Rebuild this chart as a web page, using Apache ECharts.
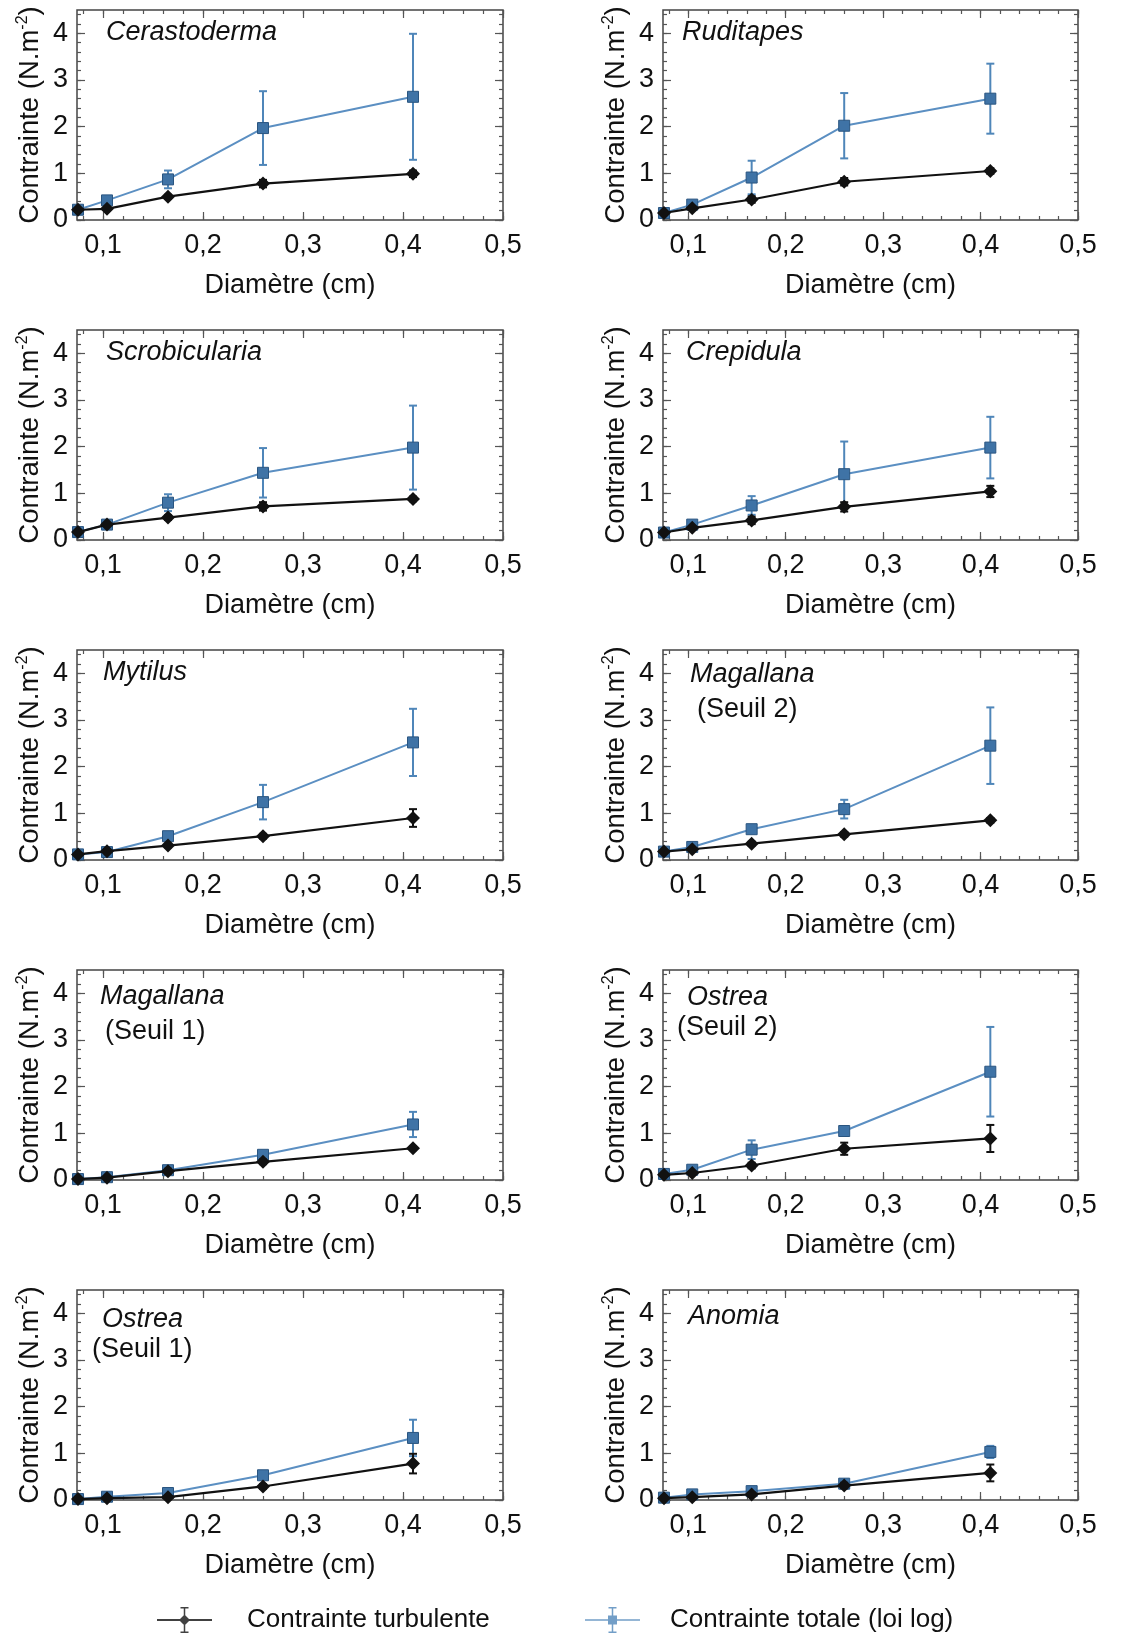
<!DOCTYPE html>
<html><head><meta charset="utf-8">
<script src="https://cdn.jsdelivr.net/npm/echarts@6/dist/echarts.min.js"></script>
<style>html,body{margin:0;padding:0;background:#fff}#c{width:1138px;height:1636px}</style>
</head><body><div id="c"></div>
<script>
// ---------- DATA ----------
const diam = [0.075, 0.104, 0.165, 0.26, 0.41];
const xTickValues = [0.1, 0.2, 0.3, 0.4, 0.5];
const xTickLabels = ['0,1', '0,2', '0,3', '0,4', '0,5'];
const yTickValues = [0, 1, 2, 3, 4];
const yTickLabels = ['0', '1', '2', '3', '4'];
const speciesNames = ['Cerastoderma', 'Ruditapes', 'Scrobicularia', 'Crepidula', 'Mytilus',
  'Magallana', 'Magallana', 'Ostrea', 'Ostrea', 'Anomia'];
const speciesSub = ['', '', '', '', '', '(Seuil 2)', '(Seuil 1)', '(Seuil 2)', '(Seuil 1)', ''];
const seriesNames = ['Contrainte turbulente', 'Contrainte totale (loi log)'];

const cerastodermaTurb = [0.22, 0.24, 0.50, 0.78, 0.99];
const cerastodermaTurbErr = [0.03, 0.03, 0.04, 0.08, 0.07];
const cerastodermaTot = [0.22, 0.42, 0.87, 1.97, 2.64];
const cerastodermaTotErr = [0.03, 0.06, 0.19, 0.79, 1.35];

const ruditapesTurb = [0.15, 0.25, 0.44, 0.82, 1.05];
const ruditapesTurbErr = [0.03, 0.04, 0.07, 0.08, 0.06];
const ruditapesTot = [0.15, 0.33, 0.91, 2.02, 2.60];
const ruditapesTotErr = [0.03, 0.06, 0.36, 0.70, 0.75];

const scrobiculariaTurb = [0.17, 0.33, 0.48, 0.72, 0.88];
const scrobiculariaTurbErr = [0.02, 0.03, 0.05, 0.09, 0.05];
const scrobiculariaTot = [0.17, 0.33, 0.80, 1.44, 1.98];
const scrobiculariaTotErr = [0.02, 0.04, 0.18, 0.53, 0.90];

const crepidulaTurb = [0.16, 0.26, 0.42, 0.71, 1.04];
const crepidulaTurbErr = [0.03, 0.04, 0.08, 0.10, 0.12];
const crepidulaTot = [0.16, 0.33, 0.74, 1.41, 1.98];
const crepidulaTotErr = [0.03, 0.05, 0.20, 0.70, 0.66];

const mytilusTurb = [0.12, 0.19, 0.31, 0.51, 0.90];
const mytilusTurbErr = [0.02, 0.03, 0.04, 0.05, 0.19];
const mytilusTot = [0.12, 0.17, 0.51, 1.24, 2.52];
const mytilusTotErr = [0.02, 0.03, 0.06, 0.37, 0.72];

const magallana2Turb = [0.18, 0.23, 0.35, 0.55, 0.85];
const magallana2TurbErr = [0.02, 0.03, 0.04, 0.05, 0.05];
const magallana2Tot = [0.18, 0.28, 0.66, 1.09, 2.45];
const magallana2TotErr = [0.02, 0.04, 0.05, 0.20, 0.82];

const magallana1Turb = [0.02, 0.05, 0.19, 0.39, 0.68];
const magallana1TurbErr = [0.02, 0.03, 0.05, 0.05, 0.04];
const magallana1Tot = [0.02, 0.06, 0.21, 0.54, 1.19];
const magallana1TotErr = [0.02, 0.05, 0.04, 0.05, 0.27];

const ostrea2Turb = [0.11, 0.15, 0.31, 0.67, 0.89];
const ostrea2TurbErr = [0.02, 0.03, 0.06, 0.13, 0.29];
const ostrea2Tot = [0.13, 0.22, 0.65, 1.05, 2.32];
const ostrea2TotErr = [0.02, 0.05, 0.20, 0.08, 0.96];

const ostrea1Turb = [0.02, 0.04, 0.06, 0.29, 0.78];
const ostrea1TurbErr = [0.02, 0.03, 0.03, 0.05, 0.21];
const ostrea1Tot = [0.02, 0.07, 0.15, 0.53, 1.33];
const ostrea1TotErr = [0.02, 0.06, 0.04, 0.07, 0.39];

const anomiaTurb = [0.04, 0.06, 0.12, 0.31, 0.58];
const anomiaTurbErr = [0.02, 0.03, 0.04, 0.06, 0.18];
const anomiaTot = [0.05, 0.12, 0.19, 0.35, 1.03];
const anomiaTotErr = [0.02, 0.04, 0.04, 0.05, 0.13];

// ---------- ASSEMBLY ----------
const turbAll = [cerastodermaTurb, ruditapesTurb, scrobiculariaTurb, crepidulaTurb, mytilusTurb,
  magallana2Turb, magallana1Turb, ostrea2Turb, ostrea1Turb, anomiaTurb];
const turbErrAll = [cerastodermaTurbErr, ruditapesTurbErr, scrobiculariaTurbErr, crepidulaTurbErr, mytilusTurbErr,
  magallana2TurbErr, magallana1TurbErr, ostrea2TurbErr, ostrea1TurbErr, anomiaTurbErr];
const totAll = [cerastodermaTot, ruditapesTot, scrobiculariaTot, crepidulaTot, mytilusTot,
  magallana2Tot, magallana1Tot, ostrea2Tot, ostrea1Tot, anomiaTot];
const totErrAll = [cerastodermaTotErr, ruditapesTotErr, scrobiculariaTotErr, crepidulaTotErr, mytilusTotErr,
  magallana2TotErr, magallana1TotErr, ostrea2TotErr, ostrea1TotErr, anomiaTotErr];

const FONT = "'Liberation Sans', Arial, sans-serif";
const TXT = '#111';
const FRAME = '#444';
const BLACK = '#111';
const BLUE_LINE = '#5b8fc2';
const BLUE_ERR = '#4f86b9';
const BLUE_FILL = '#3f73a6';
const BLUE_BORDER = '#2a5580';
const FS = 27;

const X_MIN = 0.074, X_MAX = 0.5, Y_MIN = 0, Y_MAX = 4.5;
const xMinor = []; for (let k = 4; k <= 25; k++) xMinor.push(+(k * 0.02).toFixed(2));
const yMinor = []; for (let k = 0; k <= 22; k++) yMinor.push(+(k * 0.2).toFixed(1));

const colLeft = [77, 663], colWidth = [426, 415];
const rowTop = [10, 330, 650, 970, 1290], plotH = 210;

// label positions (left, top) for each panel name, and sub-line
const namePos = [[106, 19], [682, 19], [106, 339], [686, 339], [103, 659],
  [690, 661], [100, 983], [687, 984], [102, 1306], [688, 1303]];
const subPos = [null, null, null, null, null, [697, 696], [105, 1018], [677, 1014], [92, 1336], null];

const grids = [], xAxes = [], yAxes = [], series = [], titles = [];

function errRender(color, w) {
  return function (params, api) {
    const x = api.value(0), lo = api.value(1), hi = api.value(2);
    const p1 = api.coord([x, lo]), p2 = api.coord([x, hi]);
    const st = { stroke: color, lineWidth: 2 };
    return {
      type: 'group', children: [
        { type: 'line', shape: { x1: p1[0], y1: p1[1], x2: p2[0], y2: p2[1] }, style: st },
        { type: 'line', shape: { x1: p1[0] - w, y1: p1[1], x2: p1[0] + w, y2: p1[1] }, style: st },
        { type: 'line', shape: { x1: p2[0] - w, y1: p2[1], x2: p2[0] + w, y2: p2[1] }, style: st }
      ]
    };
  };
}

const tickStyle = { color: '#555', width: 1.2 };

for (let i = 0; i < 10; i++) {
  const col = i % 2, row = Math.floor(i / 2);
  grids.push({
    left: colLeft[col], top: rowTop[row], width: colWidth[col], height: plotH,
    show: true, borderColor: FRAME, borderWidth: 1.5, backgroundColor: 'transparent'
  });
  const xBase = { gridIndex: i, type: 'value', min: X_MIN, max: X_MAX, splitLine: { show: false },
    axisLine: { show: false, onZero: false } };
  xAxes.push(Object.assign({}, xBase, {
    position: 'bottom',
    axisTick: { inside: true, length: 8, customValues: xTickValues, lineStyle: tickStyle },
    axisLabel: { customValues: xTickValues, margin: 12, fontSize: FS, color: TXT, fontFamily: FONT,
      formatter: v => xTickLabels[xTickValues.findIndex(t => Math.abs(t - v) < 1e-6)] || '' },
    name: 'Diamètre (cm)', nameLocation: 'middle', nameGap: 52,
    nameTextStyle: { fontSize: FS, color: TXT, fontFamily: FONT }
  }));
  xAxes.push(Object.assign({}, xBase, { position: 'bottom', axisLabel: { show: false },
    axisTick: { inside: true, length: 4, customValues: xMinor, lineStyle: tickStyle } }));
  xAxes.push(Object.assign({}, xBase, { position: 'top', axisLabel: { show: false },
    axisTick: { inside: true, length: 8, customValues: xTickValues, lineStyle: tickStyle } }));
  xAxes.push(Object.assign({}, xBase, { position: 'top', axisLabel: { show: false },
    axisTick: { inside: true, length: 4, customValues: xMinor, lineStyle: tickStyle } }));

  const yBase = { gridIndex: i, type: 'value', min: Y_MIN, max: Y_MAX, splitLine: { show: false },
    axisLine: { show: false, onZero: false } };
  yAxes.push(Object.assign({}, yBase, {
    position: 'left',
    axisTick: { inside: true, length: 8, customValues: yTickValues, lineStyle: tickStyle },
    axisLabel: { customValues: yTickValues, margin: 9, fontSize: FS, color: TXT, fontFamily: FONT,
      formatter: v => yTickLabels[yTickValues.findIndex(t => Math.abs(t - v) < 1e-6)] || '' },
    name: 'Contrainte (N.m{sup|-2})', nameLocation: 'middle', nameGap: 31,
    nameTextStyle: { fontSize: 27.5, color: TXT, fontFamily: FONT, lineHeight: 31,
      rich: { sup: { fontSize: 16, fontFamily: FONT, color: TXT, verticalAlign: 'top', lineHeight: 31, padding: [0, 0, 10, 0] } } }
  }));
  yAxes.push(Object.assign({}, yBase, { position: 'left', axisLabel: { show: false },
    axisTick: { inside: true, length: 4, customValues: yMinor, lineStyle: tickStyle } }));
  yAxes.push(Object.assign({}, yBase, { position: 'right', axisLabel: { show: false },
    axisTick: { inside: true, length: 8, customValues: yTickValues, lineStyle: tickStyle } }));
  yAxes.push(Object.assign({}, yBase, { position: 'right', axisLabel: { show: false },
    axisTick: { inside: true, length: 4, customValues: yMinor, lineStyle: tickStyle } }));

  const xi = 4 * i, yi = 4 * i;
  const turb = turbAll[i], turbE = turbErrAll[i], tot = totAll[i], totE = totErrAll[i];

  series.push({
    type: 'custom', xAxisIndex: xi, yAxisIndex: yi, z: 2, silent: true,
    renderItem: errRender(BLUE_ERR, 4),
    encode: { x: 0, y: [1, 2] },
    data: diam.map((x, k) => [x, tot[k] - totE[k], tot[k] + totE[k]])
  });
  series.push({
    type: 'line', name: seriesNames[1], xAxisIndex: xi, yAxisIndex: yi, z: 3,
    data: diam.map((x, k) => [x, tot[k]]),
    symbol: 'rect', symbolSize: 11, showAllSymbol: true,
    itemStyle: { color: BLUE_FILL, borderColor: BLUE_BORDER, borderWidth: 1 },
    lineStyle: { color: BLUE_LINE, width: 2 }
  });
  series.push({
    type: 'custom', xAxisIndex: xi, yAxisIndex: yi, z: 4, silent: true,
    renderItem: errRender(BLACK, 4),
    encode: { x: 0, y: [1, 2] },
    data: diam.map((x, k) => [x, turb[k] - turbE[k], turb[k] + turbE[k]])
  });
  series.push({
    type: 'line', name: seriesNames[0], xAxisIndex: xi, yAxisIndex: yi, z: 5,
    data: diam.map((x, k) => [x, turb[k]]),
    symbol: 'diamond', symbolSize: 14, showAllSymbol: true,
    itemStyle: { color: BLACK },
    lineStyle: { color: BLACK, width: 2.2 }
  });

  titles.push({ text: speciesNames[i], left: namePos[i][0], top: namePos[i][1], padding: 0,
    textStyle: { fontSize: FS, fontStyle: 'italic', fontWeight: 'normal', color: TXT, fontFamily: FONT } });
  if (speciesSub[i]) {
    titles.push({ text: speciesSub[i], left: subPos[i][0], top: subPos[i][1], padding: 0,
      textStyle: { fontSize: FS, fontWeight: 'normal', color: TXT, fontFamily: FONT } });
  }
}

// legend proxy series (scatter, no data) so that the legend icon is drawn as given
const iconTurb = 'path://M0,12H55V14H0Z M26.75,1H28.25V25H26.75Z M23.5,0H31.5V1.5H23.5Z M23.5,24.5H31.5V26H23.5Z M27.5,7.5L33,13L27.5,18.5L22,13Z';
const iconTot = 'path://M0,12.25H55V13.75H0Z M26.75,1H28.25V25H26.75Z M23.5,0H31.5V1.5H23.5Z M23.5,24.5H31.5V26H23.5Z M23,8.5H32V17.5H23Z';
series.unshift(
  { type: 'scatter', name: seriesNames[0], xAxisIndex: 0, yAxisIndex: 0, data: [], itemStyle: { color: BLACK } },
  { type: 'scatter', name: seriesNames[1], xAxisIndex: 0, yAxisIndex: 0, data: [], itemStyle: { color: BLUE_ERR } }
);

const option = {
  animation: false,
  backgroundColor: '#fff',
  textStyle: { fontFamily: FONT },
  title: titles,
  grid: grids,
  xAxis: xAxes,
  yAxis: yAxes,
  legend: [
    { data: [seriesNames[0]], left: 157, top: 1607, padding: 0, itemWidth: 55, itemHeight: 26,
      icon: iconTurb, selectedMode: false,
      textStyle: { fontSize: 26, color: TXT, fontFamily: FONT, padding: [0, 0, 0, 30] } },
    { data: [seriesNames[1]], left: 585, top: 1607, padding: 0, itemWidth: 55, itemHeight: 26,
      icon: iconTot, selectedMode: false,
      textStyle: { fontSize: 26, color: TXT, fontFamily: FONT, padding: [0, 0, 0, 25] } }
  ],
  series: series
};

const chart = echarts.init(document.getElementById('c'), null, { renderer: 'canvas' });
chart.setOption(option);
</script>
</body></html>
